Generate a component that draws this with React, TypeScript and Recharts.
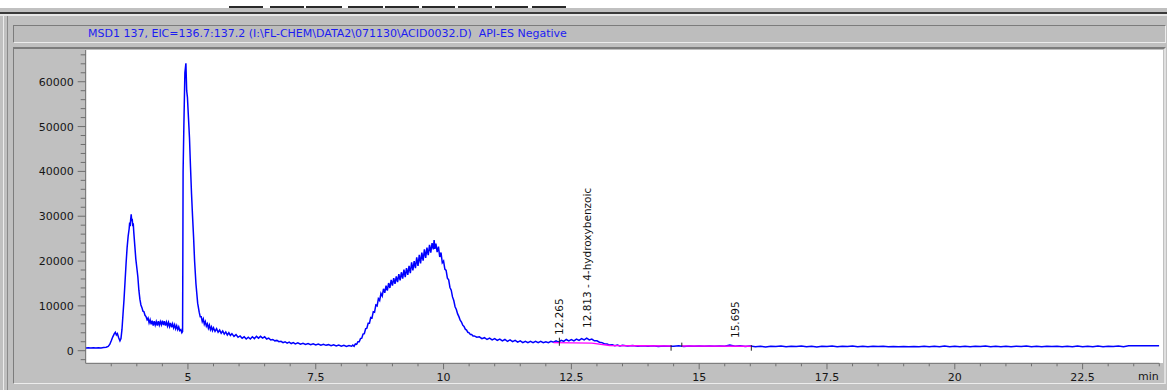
import React from 'react';
import { LineChart, Line, XAxis, YAxis, ReferenceLine, ReferenceDot } from 'recharts';

// ---- Data (time in min, abundance) ----
const earlyTrace: [number, number][] = [
  [3.0, 600], [3.05, 640], [3.1, 580], [3.15, 650], [3.2, 600], [3.25, 660], [3.3, 630], [3.35, 700], [3.4, 780], [3.44, 950],
  [3.47, 1400], [3.5, 2200], [3.53, 3100], [3.56, 3800], [3.58, 4100], [3.6, 3500], [3.62, 3800], [3.645, 2900], [3.67, 2200], [3.69, 2700],
  [3.71, 4800], [3.73, 8200], [3.75, 11500], [3.77, 15500], [3.79, 19500], [3.81, 23000], [3.83, 25500], [3.85, 27200], [3.86, 28600], [3.87, 27800],
  [3.88, 29300], [3.89, 30400], [3.9, 28900], [3.91, 29400], [3.92, 27800], [3.93, 28400], [3.94, 26500], [3.96, 23500], [3.98, 20500], [4.0, 18500],
  [4.02, 16500], [4.04, 13500], [4.06, 11500], [4.08, 10200], [4.1, 9600], [4.12, 8800], [4.14, 8700], [4.16, 7900], [4.18, 7600], [4.2, 6900],
  [4.22, 7300], [4.24, 6200], [4.26, 6900], [4.28, 5900], [4.3, 6700], [4.32, 5600], [4.34, 6600], [4.36, 5700], [4.38, 6500], [4.4, 5600],
  [4.42, 6600], [4.44, 5700], [4.46, 6500], [4.48, 5800], [4.5, 6700], [4.52, 5700], [4.54, 6600], [4.56, 5600], [4.58, 6400], [4.6, 5500],
  [4.62, 6300], [4.64, 5400], [4.66, 6200], [4.68, 5200], [4.7, 6000], [4.72, 5100], [4.74, 5800], [4.76, 4900], [4.78, 5600], [4.8, 4700],
  [4.82, 5300], [4.84, 4500], [4.86, 4700], [4.88, 4000], [4.895, 4300], [4.9, 20000], [4.905, 40000], [4.92, 50000], [4.94, 62000],
  [4.96, 64100], [4.975, 58000], [4.99, 56500], [5.01, 52000], [5.03, 47500], [5.05, 41000], [5.07, 35000], [5.09, 30000], [5.11, 25400], [5.13, 20000],
  [5.156, 15000], [5.19, 10600], [5.22, 8600], [5.24, 7600],
];

const midTrace: [number, number][] = [
  [5.26, 7600], [5.28, 6500], [5.3, 7100], [5.32, 5900], [5.34, 6500], [5.36, 5500], [5.38, 6000], [5.4, 5000], [5.42, 5700], [5.44, 4700],
  [5.46, 5300], [5.48, 4500], [5.5, 5100], [5.53, 4300], [5.56, 4900], [5.59, 4100], [5.62, 4600], [5.65, 3900], [5.68, 4400], [5.71, 3700],
  [5.74, 4200], [5.77, 3500], [5.8, 4000], [5.83, 3400], [5.86, 3800], [5.9, 3200], [5.94, 3600], [5.98, 3000], [6.02, 3300], [6.06, 2800],
  [6.1, 3100], [6.14, 2600], [6.18, 3000], [6.22, 2600], [6.26, 3100], [6.3, 2700], [6.34, 3200], [6.38, 2800], [6.42, 3200], [6.46, 2800],
  [6.5, 3100], [6.54, 2600], [6.58, 2800], [6.62, 2400], [6.66, 2500], [6.7, 2200], [6.74, 2300], [6.78, 2000], [6.82, 2100], [6.86, 1800],
  [6.9, 2000], [6.94, 1700], [6.98, 1900], [7.02, 1600], [7.06, 1800], [7.1, 1500], [7.15, 1750], [7.2, 1450], [7.25, 1650], [7.3, 1400],
  [7.35, 1600], [7.4, 1350], [7.45, 1550], [7.5, 1300], [7.55, 1500], [7.6, 1250], [7.65, 1450], [7.7, 1200], [7.75, 1350], [7.8, 1100],
  [7.85, 1300], [7.9, 1050], [7.95, 1250], [8.0, 1000], [8.05, 1200], [8.1, 950], [8.15, 1150],
];

const broadPeakTrace: [number, number][] = [
  [8.2, 1000], [8.225, 1250], [8.25, 1000], [8.275, 1500], [8.3, 1400], [8.325, 2000], [8.35, 2000], [8.375, 2700], [8.4, 2800], [8.425, 3700],
  [8.45, 3800], [8.475, 4900], [8.5, 5000], [8.525, 6100], [8.55, 6100], [8.575, 7400], [8.6, 7300], [8.625, 8700], [8.65, 8600], [8.675, 10200],
  [8.7, 10000], [8.725, 11600], [8.75, 11200], [8.775, 12800], [8.8, 12200], [8.825, 13800], [8.85, 12900], [8.875, 14500], [8.9, 13400], [8.925, 15100],
  [8.95, 14000], [8.975, 15800], [9.0, 14500], [9.025, 16200], [9.05, 14900], [9.075, 16600], [9.1, 15300], [9.125, 17100], [9.15, 15700], [9.175, 17500],
  [9.2, 16100], [9.225, 18100], [9.25, 16400], [9.275, 18400], [9.3, 16900], [9.325, 18900], [9.35, 17300], [9.375, 19700], [9.4, 17900], [9.425, 20000],
  [9.45, 18400], [9.475, 20800], [9.5, 18900], [9.525, 21400], [9.55, 19500], [9.575, 21900], [9.6, 20100], [9.625, 22600], [9.65, 20700], [9.675, 23000],
  [9.7, 21300], [9.725, 23600], [9.75, 21900], [9.775, 24000], [9.8, 22600], [9.815, 24700], [9.83, 22700], [9.85, 23900], [9.875, 22000], [9.9, 23200],
  [9.925, 20900], [9.95, 21900], [9.975, 19600], [10.0, 20000], [10.025, 18200], [10.05, 17900], [10.075, 16200], [10.1, 15800], [10.125, 14100], [10.15, 13500],
  [10.175, 12000], [10.2, 11200], [10.225, 9800], [10.25, 9200], [10.275, 8200], [10.3, 7600], [10.325, 6800], [10.35, 6400], [10.375, 5700], [10.4, 5400],
  [10.425, 4800], [10.45, 4600], [10.475, 4100], [10.5, 4000], [10.525, 3600], [10.55, 3600], [10.575, 3300], [10.6, 3300], [10.65, 3000], [10.7, 3100],
];

const lateTrace: [number, number][] = [
  [10.75, 2700], [10.8, 2900], [10.85, 2500], [10.9, 2800], [10.95, 2400], [11.0, 2700], [11.05, 2300], [11.1, 2600], [11.15, 2200], [11.2, 2500],
  [11.25, 2100], [11.3, 2400], [11.35, 2000], [11.4, 2300], [11.45, 1900], [11.5, 2200], [11.55, 1800], [11.6, 2100], [11.65, 1800], [11.7, 2100],
  [11.75, 1800], [11.8, 2100], [11.85, 1800], [11.9, 2100], [11.95, 1800], [12.0, 2000], [12.05, 1800], [12.1, 2100], [12.15, 1900], [12.2, 2200],
  [12.25, 1900], [12.3, 2300], [12.35, 2100], [12.4, 2500], [12.45, 2200], [12.5, 2500], [12.55, 2200], [12.6, 2600], [12.65, 2300], [12.7, 2700],
  [12.75, 2400], [12.8, 2800], [12.85, 2400], [12.9, 2600], [12.95, 2200], [13.0, 2200], [13.05, 1900], [13.1, 1800], [13.15, 1500], [13.2, 1500],
  [13.25, 1250], [13.3, 1300], [13.35, 1100], [13.4, 1250], [13.45, 1050], [13.5, 1200],
];

const tailTrace: [number, number][] = [
  [13.6, 1050], [13.7, 1150], [13.8, 1000], [13.9, 1100], [14.0, 1000], [14.1, 1080], [14.2, 950], [14.3, 1050], [14.4, 980], [14.5, 1000],
  [14.6, 1100], [14.7, 960], [14.8, 1050], [14.9, 990], [15.0, 1060], [15.1, 970], [15.2, 1030], [15.3, 980], [15.4, 1050], [15.5, 1000],
  [15.6, 1250], [15.7, 1000], [15.8, 1100], [15.9, 950], [16.0, 1050], [16.1, 900], [16.2, 1000], [16.3, 850], [16.4, 1000], [16.5, 950],
  [16.6, 1050], [16.7, 900], [16.8, 1000], [16.9, 950], [17.0, 1050], [17.1, 900], [17.2, 1000], [17.3, 850], [17.4, 1000], [17.5, 950],
  [17.6, 1050], [17.7, 880], [17.8, 1000], [17.9, 920], [18.0, 1050], [18.1, 900], [18.2, 1000], [18.3, 870], [18.4, 980], [18.5, 920],
  [18.6, 1000], [18.7, 880], [18.8, 960], [18.9, 900], [19.0, 950], [19.1, 880], [19.2, 960], [19.3, 900], [19.4, 980], [19.5, 870],
  [19.6, 1000], [19.7, 900], [19.8, 1050], [19.9, 880], [20.0, 1000], [20.1, 900], [20.2, 980], [20.3, 870], [20.4, 1000], [20.5, 920],
  [20.6, 1050], [20.7, 880], [20.8, 1000], [20.9, 900], [21.0, 980], [21.1, 870], [21.2, 1000], [21.3, 920], [21.4, 1050], [21.5, 900],
  [21.6, 1000], [21.7, 880], [21.8, 1000], [21.9, 920], [22.0, 980], [22.1, 870], [22.2, 1000], [22.3, 900], [22.4, 1050], [22.5, 880],
  [22.6, 1000], [22.7, 900], [22.8, 1050], [22.9, 880], [23.0, 1000], [23.1, 920], [23.2, 1050], [23.3, 900], [23.4, 1080], [23.5, 1100],
  [23.6, 1080], [23.7, 1100], [23.8, 1090], [23.9, 1100], [24.0, 1100],
];

// integration baselines (magenta)
const baselineA: [number, number][] = [[12.15, 1800], [12.9, 1700], [13.25, 1150], [14.45, 1050]];
const baselineB: [number, number][] = [[14.66, 1050], [16.02, 1000]];

// integration event marks: [time, top, bottom]
const eventMarks: [number, number, number][] = [
  [12.265, 2900, 1100], [14.45, 1250, 0], [14.66, 1800, 900], [16.02, 1250, 0],
];

// peak annotations
const peakTimes = [12.265, 12.813, 15.695];
const peakLabels = ['12.265', '12.813 - 4-hydroxybenzoic', '15.695'];
const peakLabelBase = [3500, 5060, 2830];

// axis ticks
const xMajorTicks = [5, 7.5, 10, 12.5, 15, 17.5, 20, 22.5];
const xAllTicks = [3.5, 4, 4.5, 5, 5.5, 6, 6.5, 7, 7.5, 8, 8.5, 9, 9.5, 10, 10.5, 11, 11.5, 12, 12.5, 13, 13.5, 14, 14.5, 15, 15.5, 16, 16.5, 17, 17.5, 18, 18.5, 19, 19.5, 20, 20.5, 21, 21.5, 22, 22.5, 23, 23.5, 24];
const yMajorTicks = [0, 10000, 20000, 30000, 40000, 50000, 60000];
const yAllTicks = [-2000, 0, 2000, 4000, 6000, 8000, 10000, 12000, 14000, 16000, 18000, 20000, 22000, 24000, 26000, 28000, 30000, 32000, 34000, 36000, 38000, 40000, 42000, 44000, 46000, 48000, 50000, 52000, 54000, 56000, 58000, 60000, 62000, 64000, 66000];

const titleText = 'MSD1 137, EIC=136.7:137.2 (I:\\FL-CHEM\\DATA2\\071130\\ACID0032.D)  API-ES Negative';
const toolbarSegments = [[229, 263], [270, 304], [306, 342], [348, 383], [385, 419], [422, 455], [458, 492], [495, 528], [532, 566]];

const toRows = (arr: [number, number][]) => arr.map(([t, v]) => ({ t, v }));
const traceData = toRows([...earlyTrace, ...midTrace, ...broadPeakTrace, ...lateTrace, ...tailTrace]);

const FONT = '"DejaVu Sans", Verdana, sans-serif';
const TICK_COLOR = '#6e6e6e';

const XTick = (props: any) => {
  const { x, y, payload } = props;
  const v = payload.value;
  const major = xMajorTicks.includes(v);
  return (
    <g>
      <line x1={x} x2={x} y1={y} y2={y + (major ? 6 : 3)} stroke={TICK_COLOR} strokeWidth={1} />
      {major && (
        <text x={x} y={y + 18} textAnchor="middle" fontSize={11} fontFamily={FONT} fill="#161616">
          {String(v)}
        </text>
      )}
    </g>
  );
};

const YTick = (props: any) => {
  const { x, y, payload } = props;
  const v = payload.value;
  const major = yMajorTicks.includes(v);
  return (
    <g>
      <line x1={x - (major ? 8 : 5)} x2={x} y1={y} y2={y} stroke={TICK_COLOR} strokeWidth={1} />
      {major && (
        <text x={x - 12} y={y + 4} textAnchor="end" fontSize={11} fontFamily={FONT} fill="#161616">
          {String(v)}
        </text>
      )}
    </g>
  );
};

const box = (s: React.CSSProperties): React.CSSProperties => ({ position: 'absolute', ...s });

export default function App() {
  return (
    <div style={{ position: 'absolute', left: 0, top: 0, width: 1167, height: 390, background: '#ffffff', overflow: 'hidden' }}>
      {/* toolbar remnants */}
      {toolbarSegments.map(([a, b], i) => (
        <div key={i} style={box({ left: a, top: 6, width: b - a, height: 2, background: '#2a2a2a' })} />
      ))}
      {/* window gray */}
      <div style={box({ left: 0, top: 8, width: 1167, height: 382, background: '#c0c0c0' })} />
      <div style={box({ left: 0, top: 12, width: 1167, height: 2, background: '#3a3a3a' })} />
      <div style={box({ left: 0, top: 14, width: 1167, height: 2, background: '#e6e6e6' })} />
      <div style={box({ left: 3, top: 16, width: 1, height: 374, background: '#ececec' })} />
      <div style={box({ left: 7, top: 16, width: 1, height: 374, background: '#8a8a8a' })} />
      {/* header box */}
      <div style={box({ left: 13, top: 25, width: 1153, height: 18, background: '#bdbdbd', borderTop: '1px solid #7c7c7c', borderLeft: '1px solid #7c7c7c', borderBottom: '1px solid #ececec', borderRight: '1px solid #ececec', boxSizing: 'border-box' })} />
      <div style={box({ left: 88, top: 26, height: 16, lineHeight: '16px', fontFamily: FONT, fontSize: 11, color: '#1c1cf2', whiteSpace: 'pre' })}>{titleText}</div>
      {/* plot panel */}
      <div style={box({ left: 13, top: 47, width: 1153, height: 337, background: '#c0c0c0', borderTop: '2px solid #7c7c7c', borderLeft: '1px solid #7c7c7c', borderBottom: '1px solid #ececec', borderRight: '2px solid #e0e0e0', boxSizing: 'border-box' })} />
      <div style={box({ left: 86, top: 50, width: 1077, height: 313, background: '#ffffff' })} />
      {/* chart */}
      <div style={box({ left: 0, top: 0 })}>
        <LineChart width={1167} height={390} data={traceData} margin={{ top: 50, right: 7.7, bottom: 6.7, left: 15.7 }}>
          <XAxis
            dataKey="t"
            type="number"
            domain={[3, 24]}
            allowDataOverflow
            ticks={xAllTicks}
            interval={0}
            tick={<XTick />}
            tickLine={false}
            tickSize={0}
            tickMargin={0}
            height={20}
            axisLine={{ stroke: TICK_COLOR }}
          />
          <YAxis
            type="number"
            domain={[-2810, 67080]}
            allowDataOverflow
            ticks={yAllTicks}
            interval={0}
            tick={<YTick />}
            tickLine={false}
            tickSize={0}
            tickMargin={0}
            width={70}
            axisLine={{ stroke: TICK_COLOR }}
          />
          <Line dataKey="v" stroke="#0000ff" strokeWidth={1.5} dot={false} isAnimationActive={false} type="linear" />
          <Line data={toRows(baselineA)} dataKey="v" stroke="#ff00ff" strokeWidth={1.4} dot={false} isAnimationActive={false} type="linear" />
          <Line data={toRows(baselineB)} dataKey="v" stroke="#ff00ff" strokeWidth={1.4} dot={false} isAnimationActive={false} type="linear" />
          {eventMarks.map(([t, top, bot], i) => (
            <ReferenceLine key={'m' + i} segment={[{ x: t, y: top }, { x: t, y: bot }]} stroke="#222" strokeWidth={1} />
          ))}
          {peakTimes.map((t, i) => (
            <ReferenceDot
              key={'p' + i}
              x={t}
              y={peakLabelBase[i]}
              r={0}
              shape={(p: any) => (
                <text
                  x={p.cx}
                  y={p.cy}
                  transform={`rotate(-90 ${p.cx} ${p.cy})`}
                  textAnchor="start"
                  dominantBaseline="central"
                  fontSize={10.5}
                  fontFamily={FONT}
                  fill="#111"
                >
                  {peakLabels[i]}
                </text>
              )}
            />
          ))}
        </LineChart>
      </div>
      <div style={box({ left: 1138, top: 369, fontFamily: FONT, fontSize: 11, color: '#161616', lineHeight: '16px' })}>min</div>
    </div>
  );
}
